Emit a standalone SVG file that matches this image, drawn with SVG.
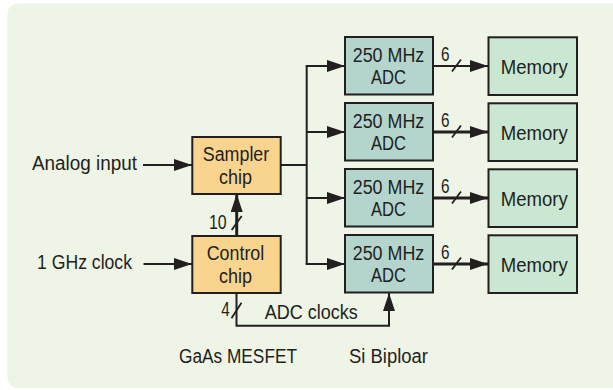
<svg xmlns="http://www.w3.org/2000/svg" width="613" height="390" viewBox="0 0 613 390">
<defs>
<style>
text{font-family:"Liberation Sans",Arial,sans-serif;font-size:19.5px;fill:#231f20}
.box{stroke:#231f20;stroke-width:2}
.adc{fill:#b3d5ce}
.mem{fill:#c9e7d1}
.chip{fill:#f9d48f}
.ln{fill:none;stroke:#231f20;stroke-width:2}
.bus{fill:none;stroke:#231f20;stroke-width:3}
.sl{fill:none;stroke:#231f20;stroke-width:1.8}
</style>
<marker id="ah" markerWidth="18" markerHeight="12" refX="18" refY="6" orient="auto" markerUnits="userSpaceOnUse">
<path d="M0,0 L18,6 L0,12 Z" fill="#231f20"/>
</marker>
</defs>
<rect x="0" y="0" width="613" height="390" fill="#ffffff"/>
<rect x="7.5" y="3.5" width="640" height="384.5" rx="10" fill="#eef4e6"/>

<g id="connectors">
<line class="ln" x1="143" y1="165" x2="192" y2="165" marker-end="url(#ah)"/>
<line class="ln" x1="143.5" y1="264" x2="192" y2="264" marker-end="url(#ah)"/>
<path class="ln" d="M281,165 H306.7"/>
<path class="ln" d="M306.7,66 V264"/>
<line class="ln" x1="305.7" y1="66" x2="345" y2="66" marker-end="url(#ah)"/>
<line class="ln" x1="306.7" y1="132" x2="345" y2="132" marker-end="url(#ah)"/>
<line class="ln" x1="306.7" y1="198" x2="345" y2="198" marker-end="url(#ah)"/>
<line class="ln" x1="305.7" y1="264" x2="345" y2="264" marker-end="url(#ah)"/>
<line class="ln" x1="433" y1="66" x2="488" y2="66" marker-end="url(#ah)"/>
<line class="bus" x1="433" y1="132" x2="488" y2="132" marker-end="url(#ah)"/>
<line class="bus" x1="433" y1="198" x2="488" y2="198" marker-end="url(#ah)"/>
<line class="bus" x1="433" y1="264" x2="488" y2="264" marker-end="url(#ah)"/>
<path class="sl" d="M452,71.5 L461,59.5 M452,137.5 L461,125.5 M452,203.5 L461,191.5 M452,269.5 L461,257.5"/>
<line class="bus" x1="236.7" y1="236" x2="236.7" y2="194" marker-end="url(#ah)"/>
<path class="sl" d="M231.7,230 L241.7,216"/>
<path class="ln" d="M236.5,293 V325.7 H389 V293" marker-end="url(#ah)"/>
<path class="sl" d="M231.5,318.3 L241.5,302.7"/>
<text x="441" y="61" textLength="8.5" lengthAdjust="spacingAndGlyphs">6</text>
<text x="441" y="127" textLength="8.5" lengthAdjust="spacingAndGlyphs">6</text>
<text x="441" y="193" textLength="8.5" lengthAdjust="spacingAndGlyphs">6</text>
<text x="441" y="259" textLength="8.5" lengthAdjust="spacingAndGlyphs">6</text>
<text x="209" y="229" textLength="17.7" lengthAdjust="spacingAndGlyphs">10</text>
<text x="221.2" y="316" textLength="8.5" lengthAdjust="spacingAndGlyphs">4</text>
<text x="264.7" y="319.3" textLength="93" lengthAdjust="spacingAndGlyphs">ADC clocks</text>
</g>

<g id="analog-input"><text x="32" y="170" textLength="105" lengthAdjust="spacingAndGlyphs">Analog input</text></g>
<g id="clock-input"><text x="37" y="269" textLength="95" lengthAdjust="spacingAndGlyphs">1 GHz clock</text></g>

<g id="sampler">
<rect class="box chip" x="192.3" y="137" width="88.4" height="57"/>
<text x="236" y="161" text-anchor="middle" textLength="66.5" lengthAdjust="spacingAndGlyphs">Sampler</text>
<text x="235.5" y="184.3" text-anchor="middle" textLength="33" lengthAdjust="spacingAndGlyphs">chip</text>
</g>
<g id="control">
<rect class="box chip" x="192.3" y="236" width="88.4" height="57"/>
<text x="235.5" y="260" text-anchor="middle" textLength="57.6" lengthAdjust="spacingAndGlyphs">Control</text>
<text x="235.5" y="283.3" text-anchor="middle" textLength="33" lengthAdjust="spacingAndGlyphs">chip</text>
</g>

<g id="adc1"><rect class="box adc" x="345" y="37" width="88" height="57.5"/><text x="388.5" y="61.7" text-anchor="middle" textLength="71.6" lengthAdjust="spacingAndGlyphs">250 MHz</text><text x="388.5" y="84" text-anchor="middle" textLength="35" lengthAdjust="spacingAndGlyphs">ADC</text></g>
<g id="adc2"><rect class="box adc" x="345" y="103" width="88" height="57.5"/><text x="388.5" y="127.7" text-anchor="middle" textLength="71.6" lengthAdjust="spacingAndGlyphs">250 MHz</text><text x="388.5" y="150" text-anchor="middle" textLength="35" lengthAdjust="spacingAndGlyphs">ADC</text></g>
<g id="adc3"><rect class="box adc" x="345" y="169" width="88" height="57.5"/><text x="388.5" y="193.7" text-anchor="middle" textLength="71.6" lengthAdjust="spacingAndGlyphs">250 MHz</text><text x="388.5" y="216" text-anchor="middle" textLength="35" lengthAdjust="spacingAndGlyphs">ADC</text></g>
<g id="adc4"><rect class="box adc" x="345" y="235" width="88" height="57.5"/><text x="388.5" y="259.7" text-anchor="middle" textLength="71.6" lengthAdjust="spacingAndGlyphs">250 MHz</text><text x="388.5" y="282" text-anchor="middle" textLength="35" lengthAdjust="spacingAndGlyphs">ADC</text></g>

<g id="mem1"><rect class="box mem" x="488.5" y="37.3" width="88.5" height="57.7"/><text x="534.3" y="74" text-anchor="middle" textLength="67" lengthAdjust="spacingAndGlyphs">Memory</text></g>
<g id="mem2"><rect class="box mem" x="488.5" y="103.3" width="88.5" height="57.7"/><text x="534.3" y="140" text-anchor="middle" textLength="67" lengthAdjust="spacingAndGlyphs">Memory</text></g>
<g id="mem3"><rect class="box mem" x="488.5" y="169.3" width="88.5" height="57.7"/><text x="534.3" y="206" text-anchor="middle" textLength="67" lengthAdjust="spacingAndGlyphs">Memory</text></g>
<g id="mem4"><rect class="box mem" x="488.5" y="235.3" width="88.5" height="57.7"/><text x="534.3" y="272" text-anchor="middle" textLength="67" lengthAdjust="spacingAndGlyphs">Memory</text></g>

<g id="label-gaas"><text x="179" y="362.7" textLength="118" lengthAdjust="spacingAndGlyphs">GaAs MESFET</text></g>
<g id="label-si"><text x="349" y="362.7" textLength="79" lengthAdjust="spacingAndGlyphs">Si Biploar</text></g>
</svg>
